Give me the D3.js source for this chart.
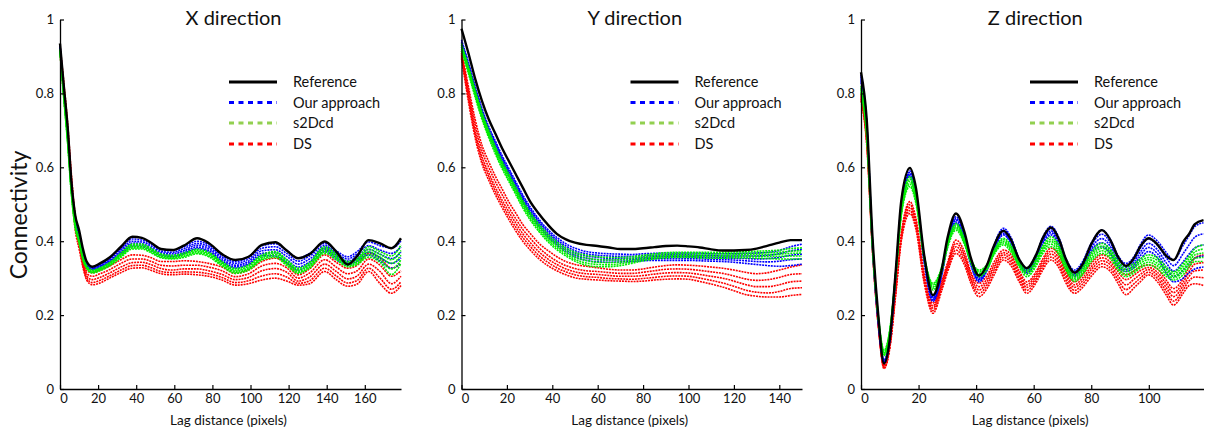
<!DOCTYPE html>
<html><head><meta charset="utf-8">
<script src="https://cdn.jsdelivr.net/npm/d3@7"></script>
<style>body{margin:0;background:#fff}svg{display:block}text{font-family:Lato,"Open Sans",sans-serif;fill:#111}</style>
</head><body><svg id="chart" width="1205" height="434"></svg>
<script>
// ---------- X direction ----------
const lagsX = [0,2,4,6,8,10,12,14,17,21,26,32,38,43,48,53,59,65,72,78,85,92,99,106,113,119,125,131,139,145,151,156,162,168,174,179];
const refX = [0.935,0.82,0.71,0.56,0.47,0.43,0.38,0.345,0.331,0.340,0.356,0.385,0.412,0.409,0.395,0.379,0.376,0.388,0.408,0.395,0.365,0.349,0.358,0.390,0.397,0.375,0.354,0.365,0.399,0.372,0.337,0.360,0.403,0.394,0.381,0.408];
const oursX = [
 [0.93,0.81,0.70,0.56,0.465,0.42,0.375,0.343,0.330,0.338,0.354,0.381,0.406,0.403,0.392,0.378,0.375,0.385,0.400,0.390,0.362,0.345,0.358,0.388,0.393,0.375,0.354,0.367,0.394,0.374,0.358,0.372,0.398,0.388,0.381,0.400],
 [0.93,0.81,0.69,0.55,0.46,0.42,0.37,0.34,0.328,0.335,0.350,0.377,0.400,0.398,0.387,0.373,0.370,0.380,0.394,0.385,0.357,0.340,0.352,0.381,0.385,0.367,0.346,0.360,0.388,0.368,0.352,0.365,0.388,0.376,0.367,0.385],
 [0.925,0.80,0.69,0.55,0.46,0.415,0.37,0.338,0.326,0.333,0.347,0.372,0.395,0.393,0.382,0.369,0.366,0.375,0.389,0.380,0.352,0.335,0.346,0.374,0.377,0.359,0.338,0.352,0.382,0.362,0.346,0.358,0.378,0.365,0.353,0.370],
 [0.925,0.80,0.69,0.54,0.455,0.41,0.365,0.335,0.324,0.330,0.344,0.368,0.390,0.389,0.378,0.365,0.362,0.371,0.384,0.375,0.347,0.331,0.341,0.367,0.369,0.350,0.330,0.344,0.377,0.356,0.341,0.352,0.370,0.355,0.340,0.355],
 [0.92,0.80,0.68,0.54,0.45,0.41,0.36,0.333,0.322,0.328,0.341,0.365,0.386,0.385,0.374,0.361,0.358,0.367,0.380,0.371,0.343,0.327,0.337,0.361,0.360,0.342,0.322,0.337,0.372,0.350,0.336,0.346,0.363,0.346,0.327,0.340]];
const s2dcdX = [
 [0.92,0.80,0.68,0.54,0.45,0.41,0.36,0.334,0.322,0.328,0.342,0.368,0.392,0.392,0.380,0.366,0.362,0.368,0.378,0.370,0.345,0.326,0.336,0.363,0.372,0.350,0.327,0.342,0.385,0.366,0.345,0.352,0.385,0.372,0.360,0.390],
 [0.92,0.795,0.675,0.535,0.445,0.405,0.358,0.332,0.320,0.326,0.340,0.365,0.388,0.388,0.377,0.363,0.359,0.365,0.375,0.367,0.342,0.322,0.332,0.359,0.368,0.346,0.323,0.338,0.380,0.362,0.341,0.348,0.378,0.364,0.350,0.375],
 [0.915,0.79,0.67,0.53,0.44,0.40,0.355,0.33,0.318,0.324,0.337,0.362,0.385,0.385,0.374,0.360,0.356,0.362,0.372,0.364,0.339,0.319,0.328,0.355,0.364,0.342,0.319,0.334,0.375,0.358,0.337,0.344,0.371,0.357,0.340,0.362],
 [0.915,0.79,0.67,0.53,0.44,0.40,0.352,0.328,0.316,0.322,0.335,0.359,0.382,0.382,0.371,0.357,0.354,0.359,0.369,0.361,0.336,0.316,0.325,0.352,0.360,0.338,0.316,0.330,0.371,0.354,0.334,0.340,0.364,0.350,0.325,0.350],
 [0.91,0.785,0.665,0.525,0.435,0.395,0.35,0.326,0.314,0.320,0.333,0.356,0.379,0.379,0.368,0.355,0.352,0.356,0.366,0.358,0.333,0.313,0.322,0.349,0.356,0.334,0.313,0.327,0.367,0.350,0.331,0.337,0.357,0.343,0.310,0.340]];
const dsX = [
 [0.93,0.83,0.72,0.58,0.47,0.42,0.35,0.320,0.315,0.322,0.333,0.350,0.363,0.362,0.355,0.345,0.345,0.347,0.345,0.340,0.330,0.313,0.322,0.345,0.354,0.340,0.309,0.325,0.363,0.343,0.327,0.335,0.367,0.355,0.327,0.340],
 [0.925,0.82,0.71,0.57,0.46,0.41,0.345,0.313,0.305,0.312,0.323,0.340,0.352,0.352,0.345,0.335,0.333,0.335,0.335,0.330,0.320,0.304,0.312,0.333,0.340,0.328,0.300,0.314,0.350,0.330,0.312,0.320,0.352,0.335,0.305,0.320],
 [0.92,0.81,0.70,0.56,0.45,0.40,0.34,0.306,0.296,0.302,0.314,0.330,0.342,0.343,0.336,0.326,0.322,0.325,0.325,0.320,0.310,0.296,0.302,0.320,0.326,0.316,0.292,0.303,0.338,0.318,0.298,0.306,0.338,0.318,0.285,0.305],
 [0.915,0.80,0.69,0.55,0.44,0.39,0.335,0.300,0.288,0.294,0.306,0.322,0.334,0.335,0.328,0.318,0.315,0.317,0.316,0.312,0.302,0.288,0.293,0.306,0.312,0.303,0.286,0.293,0.327,0.306,0.287,0.294,0.327,0.300,0.270,0.290],
 [0.91,0.79,0.68,0.54,0.43,0.38,0.33,0.295,0.282,0.287,0.300,0.315,0.327,0.328,0.321,0.312,0.309,0.311,0.309,0.305,0.295,0.281,0.285,0.295,0.300,0.292,0.281,0.285,0.318,0.296,0.278,0.284,0.318,0.285,0.259,0.280]];
const ticksX = [0,20,40,60,80,100,120,140,160];

// ---------- Y direction ----------
const lagsY = [0,3,6,9,12,15,18,21,24,27,30,34,38,42,46,50,55,60,65,70,75,80,85,90,95,100,105,110,115,120,125,130,135,140,145,150];
const refY = [0.975,0.91,0.84,0.78,0.73,0.69,0.65,0.615,0.58,0.545,0.51,0.475,0.445,0.42,0.405,0.396,0.39,0.387,0.383,0.379,0.379,0.381,0.384,0.387,0.388,0.386,0.383,0.378,0.375,0.375,0.376,0.380,0.388,0.396,0.403,0.403];
const oursY = [
 [0.945,0.885,0.82,0.76,0.71,0.67,0.63,0.595,0.56,0.525,0.495,0.46,0.432,0.41,0.393,0.381,0.372,0.368,0.366,0.365,0.364,0.366,0.367,0.368,0.368,0.368,0.368,0.366,0.366,0.366,0.367,0.368,0.370,0.375,0.385,0.392],
 [0.94,0.88,0.815,0.755,0.705,0.665,0.625,0.59,0.555,0.52,0.49,0.455,0.427,0.404,0.387,0.374,0.366,0.362,0.360,0.359,0.359,0.361,0.362,0.363,0.363,0.363,0.362,0.361,0.360,0.360,0.360,0.360,0.362,0.366,0.374,0.378],
 [0.935,0.875,0.81,0.75,0.70,0.66,0.62,0.585,0.55,0.515,0.485,0.45,0.422,0.399,0.381,0.368,0.360,0.356,0.354,0.354,0.354,0.356,0.358,0.358,0.358,0.358,0.357,0.356,0.355,0.354,0.353,0.352,0.353,0.356,0.362,0.365],
 [0.93,0.87,0.805,0.745,0.695,0.655,0.615,0.58,0.545,0.51,0.48,0.445,0.417,0.394,0.376,0.362,0.354,0.350,0.349,0.349,0.350,0.352,0.353,0.353,0.353,0.353,0.352,0.351,0.350,0.349,0.347,0.345,0.344,0.346,0.350,0.352],
 [0.925,0.865,0.80,0.74,0.69,0.65,0.61,0.575,0.54,0.505,0.475,0.44,0.412,0.389,0.371,0.357,0.348,0.344,0.343,0.344,0.345,0.347,0.348,0.348,0.348,0.348,0.347,0.346,0.345,0.343,0.340,0.337,0.334,0.332,0.334,0.338]];
const s2dcdY = [
 [0.935,0.875,0.81,0.75,0.70,0.655,0.615,0.58,0.545,0.51,0.48,0.447,0.42,0.398,0.382,0.370,0.362,0.358,0.356,0.356,0.358,0.362,0.366,0.369,0.370,0.370,0.370,0.370,0.370,0.371,0.372,0.373,0.374,0.376,0.380,0.382],
 [0.93,0.87,0.805,0.745,0.695,0.65,0.61,0.575,0.54,0.505,0.475,0.442,0.414,0.392,0.376,0.364,0.355,0.350,0.349,0.350,0.353,0.358,0.362,0.365,0.366,0.366,0.366,0.366,0.366,0.367,0.368,0.368,0.369,0.370,0.373,0.374],
 [0.925,0.865,0.80,0.74,0.69,0.645,0.605,0.57,0.535,0.50,0.47,0.437,0.409,0.387,0.370,0.357,0.348,0.343,0.342,0.344,0.348,0.354,0.358,0.361,0.362,0.362,0.362,0.362,0.362,0.363,0.364,0.364,0.364,0.365,0.367,0.368],
 [0.92,0.86,0.795,0.735,0.685,0.64,0.60,0.565,0.53,0.495,0.465,0.432,0.404,0.382,0.365,0.351,0.341,0.337,0.336,0.339,0.344,0.350,0.355,0.358,0.359,0.359,0.359,0.358,0.358,0.359,0.360,0.359,0.359,0.359,0.360,0.360],
 [0.915,0.855,0.79,0.73,0.68,0.635,0.595,0.56,0.525,0.49,0.46,0.427,0.399,0.377,0.360,0.346,0.335,0.331,0.331,0.334,0.340,0.347,0.352,0.355,0.356,0.356,0.355,0.354,0.354,0.355,0.355,0.354,0.353,0.352,0.352,0.352]];
const dsY = [
 [0.915,0.82,0.73,0.66,0.615,0.575,0.54,0.505,0.475,0.445,0.423,0.395,0.375,0.358,0.345,0.337,0.332,0.328,0.324,0.322,0.322,0.325,0.330,0.334,0.336,0.335,0.333,0.330,0.327,0.322,0.316,0.312,0.315,0.322,0.330,0.336],
 [0.91,0.81,0.715,0.645,0.60,0.56,0.525,0.49,0.46,0.432,0.41,0.383,0.362,0.346,0.334,0.326,0.320,0.318,0.315,0.313,0.313,0.316,0.320,0.324,0.325,0.324,0.321,0.317,0.313,0.306,0.298,0.294,0.296,0.302,0.310,0.312],
 [0.905,0.80,0.70,0.63,0.585,0.545,0.51,0.478,0.448,0.42,0.398,0.372,0.352,0.337,0.325,0.317,0.312,0.310,0.307,0.305,0.305,0.307,0.311,0.314,0.315,0.314,0.310,0.305,0.300,0.292,0.283,0.277,0.277,0.282,0.290,0.292],
 [0.90,0.79,0.69,0.62,0.575,0.535,0.50,0.467,0.437,0.41,0.388,0.362,0.343,0.328,0.317,0.309,0.304,0.302,0.299,0.298,0.297,0.299,0.302,0.305,0.306,0.305,0.300,0.294,0.287,0.278,0.268,0.262,0.260,0.264,0.272,0.274],
 [0.895,0.78,0.68,0.61,0.565,0.525,0.49,0.457,0.427,0.40,0.378,0.353,0.334,0.32,0.309,0.301,0.297,0.295,0.293,0.292,0.291,0.292,0.295,0.297,0.298,0.297,0.291,0.284,0.276,0.266,0.256,0.251,0.249,0.249,0.253,0.256]];
const ticksY = [0,20,40,60,80,100,120,140];

// ---------- Z direction ----------
const lagsZ = [0,2,4,6,8,10,12,14,17,19,22,25,28,30,33,36,38,41,44,46,49.5,52,55,57.6,61,63,66,69,71,74.2,77,80,83.7,87,89,92.1,95,97,99.9,103,106,108.6,112,114,116,119];
const refZ = [0.857,0.728,0.41,0.20,0.069,0.135,0.313,0.51,0.598,0.548,0.360,0.254,0.322,0.407,0.475,0.423,0.359,0.307,0.340,0.384,0.428,0.406,0.350,0.327,0.366,0.406,0.437,0.401,0.355,0.315,0.338,0.392,0.430,0.398,0.362,0.333,0.356,0.385,0.408,0.391,0.361,0.349,0.399,0.420,0.446,0.457];
const oursZ = [
 [0.85,0.72,0.40,0.19,0.078,0.14,0.31,0.50,0.59,0.54,0.355,0.25,0.32,0.40,0.466,0.418,0.355,0.304,0.338,0.385,0.435,0.412,0.352,0.327,0.368,0.408,0.44,0.405,0.358,0.322,0.345,0.395,0.43,0.40,0.365,0.34,0.36,0.39,0.417,0.40,0.37,0.349,0.39,0.415,0.44,0.45],
 [0.845,0.715,0.395,0.188,0.076,0.138,0.308,0.498,0.586,0.536,0.351,0.247,0.316,0.396,0.461,0.413,0.351,0.300,0.335,0.381,0.430,0.408,0.348,0.323,0.364,0.403,0.434,0.399,0.353,0.317,0.340,0.389,0.419,0.390,0.357,0.334,0.352,0.380,0.406,0.389,0.356,0.334,0.367,0.39,0.411,0.42],
 [0.84,0.71,0.39,0.185,0.074,0.135,0.305,0.495,0.582,0.532,0.347,0.243,0.312,0.392,0.457,0.409,0.347,0.297,0.331,0.377,0.426,0.403,0.344,0.320,0.360,0.399,0.428,0.394,0.349,0.313,0.335,0.382,0.407,0.381,0.350,0.329,0.345,0.370,0.394,0.377,0.342,0.319,0.345,0.365,0.382,0.39],
 [0.835,0.705,0.385,0.183,0.072,0.133,0.303,0.493,0.579,0.529,0.344,0.240,0.309,0.389,0.452,0.404,0.344,0.293,0.328,0.374,0.421,0.399,0.341,0.316,0.356,0.394,0.423,0.388,0.344,0.308,0.330,0.376,0.396,0.371,0.342,0.323,0.337,0.360,0.383,0.366,0.329,0.305,0.322,0.34,0.354,0.36],
 [0.83,0.70,0.38,0.18,0.07,0.13,0.30,0.49,0.575,0.525,0.34,0.237,0.305,0.385,0.448,0.40,0.34,0.29,0.325,0.37,0.417,0.395,0.337,0.313,0.352,0.39,0.417,0.383,0.34,0.304,0.325,0.37,0.385,0.362,0.335,0.318,0.33,0.35,0.372,0.355,0.315,0.29,0.30,0.315,0.325,0.33]];
const s2dcdZ = [
 [0.82,0.70,0.40,0.20,0.105,0.16,0.31,0.48,0.575,0.53,0.36,0.286,0.33,0.395,0.448,0.405,0.355,0.322,0.34,0.372,0.408,0.39,0.345,0.327,0.355,0.385,0.412,0.385,0.345,0.309,0.33,0.37,0.394,0.375,0.35,0.331,0.34,0.352,0.363,0.355,0.33,0.317,0.34,0.36,0.38,0.39],
 [0.815,0.695,0.395,0.198,0.101,0.158,0.308,0.478,0.568,0.524,0.358,0.282,0.326,0.391,0.444,0.401,0.353,0.318,0.336,0.369,0.404,0.386,0.341,0.321,0.350,0.380,0.405,0.379,0.340,0.305,0.325,0.364,0.387,0.369,0.344,0.324,0.334,0.346,0.356,0.348,0.324,0.312,0.333,0.353,0.371,0.379],
 [0.81,0.69,0.39,0.195,0.098,0.155,0.305,0.475,0.562,0.518,0.355,0.277,0.323,0.388,0.439,0.398,0.35,0.313,0.333,0.366,0.399,0.381,0.338,0.316,0.345,0.375,0.399,0.373,0.335,0.300,0.32,0.358,0.381,0.363,0.338,0.318,0.328,0.340,0.350,0.340,0.318,0.306,0.325,0.345,0.363,0.368],
 [0.805,0.685,0.385,0.193,0.094,0.153,0.303,0.473,0.555,0.511,0.353,0.273,0.319,0.384,0.435,0.394,0.348,0.309,0.329,0.363,0.395,0.377,0.334,0.310,0.340,0.370,0.392,0.366,0.330,0.296,0.315,0.351,0.374,0.356,0.331,0.311,0.321,0.333,0.343,0.333,0.311,0.301,0.318,0.338,0.354,0.356],
 [0.80,0.68,0.38,0.19,0.09,0.15,0.30,0.47,0.548,0.505,0.35,0.268,0.315,0.38,0.43,0.39,0.345,0.304,0.325,0.36,0.39,0.372,0.33,0.304,0.335,0.365,0.385,0.36,0.325,0.291,0.31,0.345,0.367,0.35,0.325,0.304,0.315,0.327,0.336,0.325,0.305,0.295,0.31,0.33,0.345,0.345]];
const dsZ = [
 [0.80,0.68,0.39,0.18,0.065,0.12,0.27,0.42,0.507,0.465,0.31,0.232,0.29,0.34,0.403,0.37,0.32,0.286,0.31,0.34,0.376,0.365,0.32,0.29,0.32,0.35,0.381,0.36,0.325,0.29,0.31,0.34,0.363,0.35,0.33,0.309,0.32,0.33,0.336,0.325,0.295,0.272,0.30,0.33,0.355,0.363],
 [0.795,0.675,0.385,0.178,0.063,0.118,0.265,0.415,0.499,0.458,0.304,0.225,0.284,0.334,0.394,0.361,0.313,0.277,0.301,0.331,0.369,0.358,0.313,0.282,0.313,0.343,0.373,0.351,0.316,0.282,0.301,0.331,0.355,0.341,0.32,0.296,0.309,0.32,0.329,0.316,0.285,0.261,0.29,0.318,0.338,0.342],
 [0.79,0.67,0.38,0.175,0.06,0.115,0.26,0.41,0.491,0.45,0.298,0.219,0.278,0.328,0.385,0.353,0.305,0.268,0.293,0.323,0.363,0.35,0.305,0.275,0.305,0.335,0.365,0.343,0.308,0.275,0.293,0.323,0.347,0.333,0.31,0.282,0.298,0.31,0.323,0.308,0.275,0.25,0.28,0.305,0.32,0.322],
 [0.785,0.665,0.375,0.173,0.058,0.113,0.255,0.405,0.483,0.443,0.291,0.212,0.271,0.321,0.376,0.344,0.298,0.259,0.284,0.314,0.356,0.343,0.298,0.267,0.298,0.328,0.357,0.334,0.299,0.267,0.284,0.314,0.339,0.324,0.30,0.269,0.286,0.30,0.316,0.299,0.265,0.238,0.27,0.293,0.303,0.301],
 [0.78,0.66,0.37,0.17,0.055,0.11,0.25,0.40,0.475,0.435,0.285,0.205,0.265,0.315,0.367,0.335,0.29,0.25,0.275,0.305,0.349,0.335,0.29,0.259,0.29,0.32,0.349,0.325,0.29,0.259,0.275,0.305,0.331,0.315,0.29,0.255,0.275,0.29,0.309,0.29,0.255,0.227,0.26,0.28,0.285,0.28]];
const ticksZ = [0,20,40,60,80,100];

const yTickValues = [0,0.2,0.4,0.6,0.8,1];
const panelTitles = ["X direction","Y direction","Z direction"];
const legendLabels = ["Reference","Our approach","s2Dcd","DS"];
const legendColors = ["#000000","#0000ff","#92d050","#ff0000"];
const xLabel = "Lag distance (pixels)";
const yLabel = "Connectivity";

const panels = [
  {title:panelTitles[0], lags:lagsX, ref:refX, ours:oursX, s2:s2dcdX, ds:dsX, xMax:179, ticks:ticksX, left:60, right:401},
  {title:panelTitles[1], lags:lagsY, ref:refY, ours:oursY, s2:s2dcdY, ds:dsY, xMax:150, ticks:ticksY, left:461.5, right:802},
  {title:panelTitles[2], lags:lagsZ, ref:refZ, ours:oursZ, s2:s2dcdZ, ds:dsZ, xMax:119, ticks:ticksZ, left:861, right:1203.5}
];

const svg = d3.select("#chart");
const plotTop = 19.5, plotBottom = 389;

panels.forEach((p, pi) => {
  const x = d3.scaleLinear().domain([0, p.xMax]).range([p.left, p.right]);
  const y = d3.scaleLinear().domain([0, 1]).range([plotBottom, plotTop]);
  const g = svg.append("g");
  const mk = vals => d3.line().x((d, j) => x(p.lags[j])).y(d => y(d)).curve(d3.curveMonotoneX)(vals);

  [[p.ds, "#ff0000"], [p.ours, "#0000ff"], [p.s2, "#00ee00"]].forEach(([set, c]) => {
    set.forEach(v => g.append("path").attr("d", mk(v)).attr("fill", "none")
      .attr("stroke", c).attr("stroke-width", 1.6).attr("stroke-dasharray", "2,0.9"));
  });
  g.append("path").attr("d", mk(p.ref)).attr("fill", "none").attr("stroke", "#000").attr("stroke-width", 2.4);

  // axes
  const xa = g.append("g").attr("transform", `translate(0,${plotBottom})`)
    .call(d3.axisBottom(x).tickValues(p.ticks).tickSizeInner(-4).tickSizeOuter(0).tickPadding(5).tickFormat(d3.format("d")));
  xa.selectAll("text").attr("font-size", 13).attr("dx", (d) => d === 0 ? 3.5 : 0);
  const ya = g.append("g").attr("transform", `translate(${p.left},0)`)
    .call(d3.axisLeft(y).tickValues(yTickValues).tickSizeInner(-4).tickSizeOuter(0).tickPadding(6).tickFormat(d => d === 0 || d === 1 ? String(d) : d.toFixed(1)));
  ya.selectAll("text").attr("font-size", 13);
  [xa, ya].forEach(a => {
    a.select(".domain").attr("stroke", "#000").attr("stroke-width", 1.3);
    a.selectAll(".tick line").attr("stroke", "#000").attr("stroke-width", 1.2);
    a.selectAll("text").style("fill", "#111").attr("font-family", "Lato, sans-serif");
  });

  // title
  g.append("text").attr("x", (p.left + p.right) / 2 + 3).attr("y", 25).attr("text-anchor", "middle")
    .attr("font-size", 20).text(p.title);
  // x label
  g.append("text").attr("x", (p.left + p.right) / 2 - 2).attr("y", 425).attr("text-anchor", "middle")
    .attr("font-size", 13.5).text(xLabel);

  // legend
  const rows = [82, 102.5, 123, 144];
  legendLabels.forEach((lab, k) => {
    const ln = g.append("line").attr("x1", p.left + 169).attr("x2", p.left + 217)
      .attr("y1", rows[k]).attr("y2", rows[k]).attr("stroke", legendColors[k]).attr("stroke-width", 3);
    if (k > 0) ln.attr("stroke-dasharray", "5,4.5");
    g.append("text").attr("x", p.left + 233).attr("y", rows[k] + 5).attr("font-size", 14.5).text(lab);
  });
});

svg.append("text").attr("transform", "translate(27,215) rotate(-90)").attr("text-anchor", "middle")
  .attr("font-size", 23).text(yLabel);
</script></body></html>
